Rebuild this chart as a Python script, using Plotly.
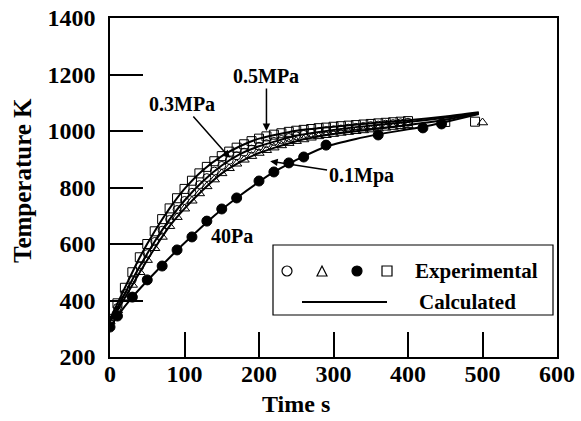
import plotly.graph_objects as go

# ---------------- data ----------------
t_dense = [0, 10, 20, 30, 40, 50, 60, 70, 80, 90, 100, 110, 120, 130, 140, 150, 160, 170, 180, 190,
           200, 210, 220, 230, 240, 250, 260, 270, 280, 290, 300, 310, 320, 330, 340, 350, 360, 370,
           380, 390, 400]

# 0.5 MPa (open squares)
sq_t = t_dense + [450, 490]
sq_T = [335, 390, 445, 500, 553, 600, 645, 688, 726, 762, 795, 824, 850, 873, 893, 911, 927, 941, 953,
        964, 973, 981, 987, 992, 997, 1001, 1004, 1007, 1010, 1012, 1015, 1017, 1019, 1021, 1023, 1025,
        1027, 1029, 1031, 1033, 1035, 1032, 1033]

# 0.3 MPa (open circles)
ci_t = t_dense
ci_T = [330, 375, 425, 474, 521, 566, 609, 649, 687, 722, 754, 783, 810, 835, 858, 878, 896, 912, 925,
        936, 946, 955, 963, 970, 977, 983, 988, 993, 997, 1001, 1004, 1007, 1010, 1013, 1016, 1019,
        1021, 1024, 1026, 1029, 1031]

# 0.1 MPa (open triangles)
tr_t = t_dense + [500]
tr_T = [325, 365, 410, 455, 500, 543, 585, 625, 663, 695, 725, 753, 779, 804, 828, 850, 868, 884, 898,
        911, 922, 932, 941, 949, 957, 964, 970, 976, 981, 985, 989, 993, 996, 999, 1002, 1005, 1008,
        1011, 1014, 1017, 1020, 1030]

# 40 Pa (filled circles)
pa_t = [0, 10, 30, 50, 70, 90, 110, 130, 150, 170, 200, 220, 240, 260, 290, 360, 420, 445]
pa_T = [306, 345, 412, 473, 522, 579, 625, 681, 724, 763, 823, 855, 887, 908, 950, 986, 1011, 1025]

# calculated curves
calc_t = [0, 10, 20, 40, 60, 80, 100, 125, 150, 175, 200, 250, 300, 350, 400, 450, 495]
calc_sq = [335, 390, 445, 553, 645, 726, 795, 862, 911, 947, 973, 1001, 1015, 1027, 1038, 1051, 1066]
calc_ci = [330, 375, 425, 521, 609, 687, 754, 823, 878, 919, 946, 983, 1004, 1019, 1032, 1047, 1064]
calc_tr = [325, 365, 410, 500, 585, 663, 725, 792, 850, 891, 922, 964, 989, 1005, 1021, 1040, 1062]
calc_pa_t = [0, 10, 30, 50, 70, 90, 110, 130, 150, 170, 200, 220, 240, 260, 290, 330, 360, 420, 450, 495]
calc_pa = [306, 345, 412, 470, 525, 578, 628, 677, 722, 763, 820, 855, 884, 910, 945, 972, 988, 1015,
           1032, 1060]

x_ticks = [0, 100, 200, 300, 400, 500, 600]
y_ticks = [200, 400, 600, 800, 1000, 1200, 1400]

# ---------------- figure ----------------
FONT = "Liberation Serif"
fig = go.Figure()

line_style = dict(color="black", width=2, shape="spline", smoothing=0.6)
for xs, ys in [(calc_t, calc_sq), (calc_t, calc_ci), (calc_t, calc_tr), (calc_pa_t, calc_pa)]:
    fig.add_trace(go.Scatter(x=xs, y=ys, mode="lines", line=line_style, showlegend=False,
                             hoverinfo="skip"))

mk_line = dict(color="black", width=1)
fig.add_trace(go.Scatter(x=tr_t, y=tr_T, mode="markers", name="0.1MPa", showlegend=False,
                         marker=dict(symbol="triangle-up-open", size=9, color="black", line=mk_line)))
fig.add_trace(go.Scatter(x=ci_t, y=ci_T, mode="markers", name="0.3MPa", showlegend=False,
                         marker=dict(symbol="circle-open", size=8, color="black", line=mk_line)))
fig.add_trace(go.Scatter(x=sq_t, y=sq_T, mode="markers", name="0.5MPa", showlegend=False,
                         marker=dict(symbol="square-open", size=9, color="black", line=mk_line)))
fig.add_trace(go.Scatter(x=pa_t, y=pa_T, mode="markers", name="40Pa", showlegend=False,
                         marker=dict(symbol="circle", size=10, color="black", line=mk_line)))

L, R, T, B = 110, 24, 18, 64
W, H = 581, 421
pw, ph = W - L - R, H - T - B


def px(xp):
    return (xp - L) / pw


def py(yp):
    return (H - B - yp) / ph


axis_common = dict(showgrid=False, zeroline=False, showline=True, linecolor="black", linewidth=1.5,
                   mirror=True, ticks="inside", tickcolor="black", tickwidth=1.5, automargin=False,
                   tickfont=dict(family=FONT, size=24, color="black", weight="bold"))
fig.update_layout(
    width=W, height=H, margin=dict(l=L, r=R, t=T, b=B, autoexpand=False),
    paper_bgcolor="white", plot_bgcolor="white", showlegend=False,
    xaxis=dict(range=[0, 600], tickvals=x_ticks, ticklen=25, ticklabelstandoff=-6, **axis_common),
    yaxis=dict(range=[200, 1400], tickvals=y_ticks, ticklen=33, ticklabelstandoff=8, **axis_common),
)

ann_font = dict(family=FONT, size=20, color="black", weight="bold")
anns = [
    dict(text="0.5MPa", x=210, y=1000, ax=210, ay=1195),
    dict(text="0.3MPa", x=161, y=905, ax=97, ay=1096),
    dict(text="0.1Mpa", x=215, y=893, ax=337, ay=844),
]
for a in anns:
    fig.add_annotation(xref="x", yref="y", axref="x", ayref="y", showarrow=True, arrowhead=2,
                       arrowsize=1, arrowwidth=1.5, arrowcolor="black", font=ann_font, **a)
fig.add_annotation(xref="x", yref="y", x=164, y=628, text="40Pa", showarrow=False, font=ann_font,
                   xanchor="center", yanchor="middle")

# axis titles
title_font = dict(family=FONT, size=25, color="black", weight="bold")
fig.add_annotation(xref="paper", yref="paper", x=px(296), y=py(404), text="Time s",
                   showarrow=False, font=dict(family=FONT, size=24, color="black", weight="bold"),
                   xanchor="center", yanchor="middle")
fig.add_annotation(xref="paper", yref="paper", x=px(22), y=py(181), text="Temperature K",
                   showarrow=False, font=title_font, textangle=-90, xanchor="center",
                   yanchor="middle")

# legend box (drawn)
fig.add_shape(type="rect", xref="paper", yref="paper", x0=px(273), x1=px(553), y0=py(315), y1=py(245),
              line=dict(color="black", width=1.2), fillcolor="white", layer="above")
row1, row2 = 271, 302
hx, hy = 5 / pw, 5 / ph
c = px(287)
fig.add_shape(type="circle", xref="paper", yref="paper", x0=c - hx, x1=c + hx, y0=py(row1) - hy,
              y1=py(row1) + hy, line=dict(color="black", width=1.2))
c = px(322)
fig.add_shape(type="path", xref="paper", yref="paper",
              path=f"M {c - hx} {py(row1 + 5)} L {c + hx} {py(row1 + 5)} L {c} {py(row1 - 5)} Z",
              line=dict(color="black", width=1.2))
c = px(357)
fig.add_shape(type="circle", xref="paper", yref="paper", x0=c - hx, x1=c + hx, y0=py(row1) - hy,
              y1=py(row1) + hy, line=dict(color="black", width=1.2), fillcolor="black")
c = px(387)
fig.add_shape(type="rect", xref="paper", yref="paper", x0=c - hx, x1=c + hx, y0=py(row1) - hy,
              y1=py(row1) + hy, line=dict(color="black", width=1.2))
fig.add_shape(type="line", xref="paper", yref="paper", x0=px(302), x1=px(387), y0=py(row2), y1=py(row2),
              line=dict(color="black", width=2))
leg_font = dict(family=FONT, size=21, color="black", weight="bold")
fig.add_annotation(xref="paper", yref="paper", x=px(476), y=py(row1), text="Experimental",
                   showarrow=False, font=leg_font, xanchor="center", yanchor="middle")
fig.add_annotation(xref="paper", yref="paper", x=px(467), y=py(row2), text="Calculated",
                   showarrow=False, font=leg_font, xanchor="center", yanchor="middle")

fig.write_html("out.html")
